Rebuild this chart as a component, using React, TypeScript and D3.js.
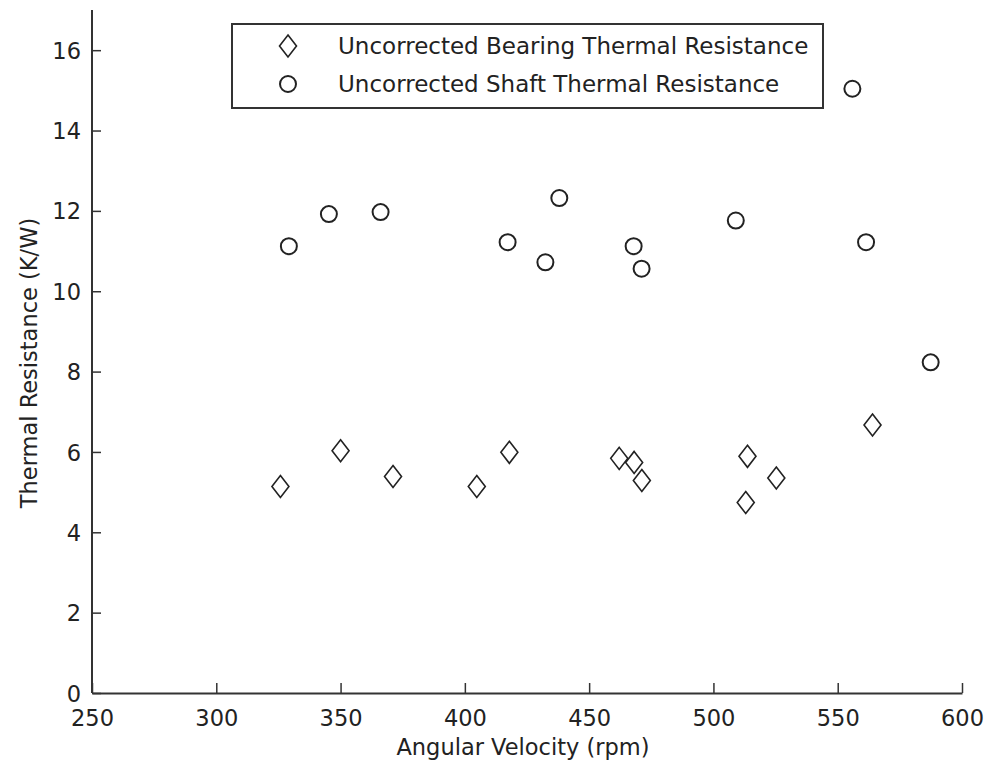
import React, { useEffect, useRef } from "react";
import * as d3 from "d3";

// angular velocity (rpm) and thermal resistance (K/W)
const bearingRpm = [325.8, 350, 371.1, 404.8, 417.9, 462.1, 468.1, 471.2, 513.7, 525.3, 513.0, 564.0];
const bearingRes = [5.14, 6.03, 5.39, 5.14, 5.99, 5.84, 5.74, 5.29, 5.89, 5.35, 4.74, 6.67];

const shaftRpm = [329.2, 345.3, 366.1, 417.2, 432.4, 438.0, 467.9, 471.1, 509.0, 555.9, 561.4, 587.4];
const shaftRes = [11.12, 11.92, 11.97, 11.22, 10.72, 12.32, 11.12, 10.56, 11.76, 15.04, 11.22, 8.23];

const xTicks = [250, 300, 350, 400, 450, 500, 550, 600];
const yTicks = [0, 2, 4, 6, 8, 10, 12, 14, 16];

const legendLabels = [
  "Uncorrected Bearing Thermal Resistance",
  "Uncorrected Shaft Thermal Resistance",
];

const W = 987;
const H = 768;
const FONT = "'DejaVu Sans', sans-serif";
const INK = "#222";

const diamondPath = (cx: number, cy: number) => {
  const hw = 8.5;
  const hh = 11;
  return `M${cx},${cy - hh}L${cx + hw},${cy}L${cx},${cy + hh}L${cx - hw},${cy}Z`;
};

const App: React.FC = () => {
  const svgRef = useRef<SVGSVGElement | null>(null);

  useEffect(() => {
    const svg = d3.select(svgRef.current);
    svg.selectAll("*").remove();

    const x = d3.scaleLinear().domain([250, 600]).range([92, 962]);
    const y = d3.scaleLinear().domain([0, 17]).range([693, 10]);

    // x axis, ticks pointing inward
    const gx = svg
      .append("g")
      .attr("transform", `translate(0, ${y(0)})`)
      .call(d3.axisBottom(x).tickValues(xTicks).tickSizeInner(-10).tickSizeOuter(0));
    gx.select(".domain").attr("stroke", "#333").attr("stroke-width", 2);
    gx.selectAll(".tick line").attr("stroke", "#333").attr("stroke-width", 1.5);
    gx.selectAll(".tick text")
      .attr("y", 33)
      .attr("dy", 0)
      .attr("fill", INK)
      .style("font-family", FONT)
      .style("font-size", "22.5px");

    // y axis
    const gy = svg
      .append("g")
      .attr("transform", `translate(${x(250)}, 0)`)
      .call(d3.axisLeft(y).tickValues(yTicks).tickSizeInner(-9).tickSizeOuter(0));
    gy.select(".domain")
      .attr("stroke", "#333")
      .attr("stroke-width", 2)
      .attr("d", `M0,${y(0)}V${y(17)}`);
    gy.selectAll(".tick line").attr("stroke", "#333").attr("stroke-width", 1.5);
    gy.selectAll(".tick text")
      .attr("x", -11)
      .attr("dy", "0.36em")
      .attr("fill", INK)
      .style("font-family", FONT)
      .style("font-size", "22.5px");

    // axis titles
    svg
      .append("text")
      .attr("x", 523)
      .attr("y", 755)
      .attr("text-anchor", "middle")
      .attr("fill", INK)
      .style("font-family", FONT)
      .style("font-size", "22.5px")
      .text("Angular Velocity (rpm)");

    svg
      .append("text")
      .attr("transform", "translate(37, 363) rotate(-90)")
      .attr("text-anchor", "middle")
      .attr("fill", INK)
      .style("font-family", FONT)
      .style("font-size", "22.5px")
      .text("Thermal Resistance (K/W)");

    // bearing: diamonds
    svg
      .append("g")
      .selectAll("path")
      .data(d3.range(bearingRpm.length))
      .join("path")
      .attr("d", (i) => diamondPath(x(bearingRpm[i]), y(bearingRes[i])))
      .attr("fill", "none")
      .attr("stroke", INK)
      .attr("stroke-width", 1.6);

    // shaft: circles
    svg
      .append("g")
      .selectAll("circle")
      .data(d3.range(shaftRpm.length))
      .join("circle")
      .attr("cx", (i) => x(shaftRpm[i]))
      .attr("cy", (i) => y(shaftRes[i]))
      .attr("r", 8)
      .attr("fill", "none")
      .attr("stroke", INK)
      .attr("stroke-width", 2);

    // legend
    const lg = svg.append("g");
    lg.append("rect")
      .attr("x", 232)
      .attr("y", 24)
      .attr("width", 591)
      .attr("height", 84)
      .attr("fill", "#fff")
      .attr("stroke", "#333")
      .attr("stroke-width", 2);
    const rowY = [46, 84];
    lg.append("path")
      .attr("d", diamondPath(288, rowY[0]))
      .attr("fill", "none")
      .attr("stroke", INK)
      .attr("stroke-width", 1.6);
    lg.append("circle")
      .attr("cx", 288)
      .attr("cy", rowY[1])
      .attr("r", 8)
      .attr("fill", "none")
      .attr("stroke", INK)
      .attr("stroke-width", 2);
    lg.selectAll("text")
      .data(legendLabels)
      .join("text")
      .attr("x", 338)
      .attr("y", (_, i) => rowY[i] + 8)
      .attr("fill", INK)
      .style("font-family", FONT)
      .style("font-size", "23px")
      .text((d) => d);

    return () => {
      svg.selectAll("*").remove();
    };
  }, []);

  return (
    <div style={{ position: "absolute", left: 0, top: 0, background: "#fff" }}>
      <svg ref={svgRef} width={W} height={H} style={{ display: "block" }} />
    </div>
  );
};

export default App;
